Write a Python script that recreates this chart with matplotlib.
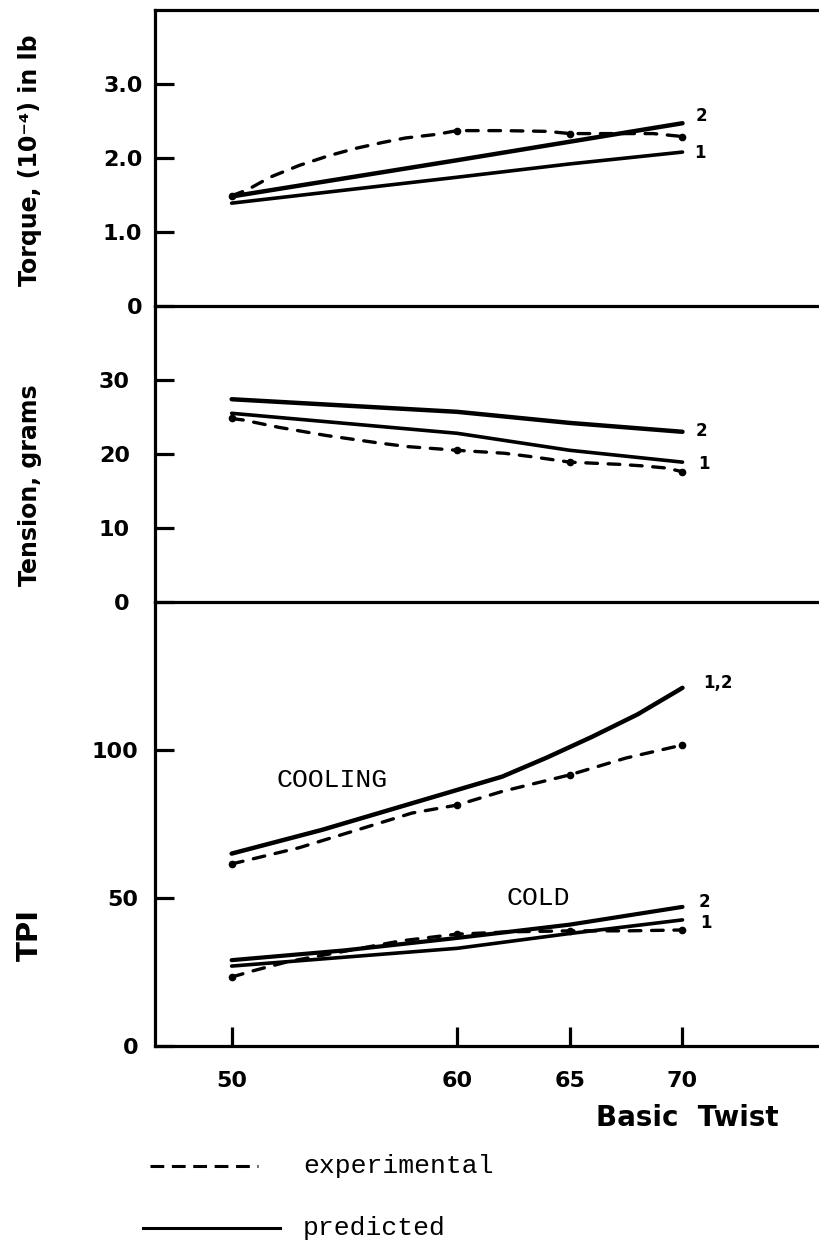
import matplotlib
matplotlib.use("Agg")
import matplotlib.pyplot as plt

# ---- data ----
twist_ticks = [50, 60, 65, 70]
twist_pts = [50, 60, 65, 70]          # experimental points (dots)

# torque (10^-4 in lb)
torque_pred_x = [50, 60, 65, 70]
torque_pred_1 = [1.39, 1.74, 1.92, 2.08]
torque_pred_2 = [1.48, 1.97, 2.22, 2.47]
torque_exp_x = [50, 50.7, 51.7, 53, 54.3, 55.5, 56.7, 57.7, 59.1, 60, 62, 64, 65, 67, 68.7, 70]
torque_exp = [1.49, 1.57, 1.74, 1.90, 2.03, 2.13, 2.21, 2.27, 2.32, 2.37, 2.37, 2.36, 2.33, 2.33, 2.33, 2.29]
torque_exp_dots = [1.49, 2.37, 2.33, 2.29]

# tension (grams)
tension_pred_x = [50, 60, 65, 70]
tension_pred_1 = [25.5, 22.8, 20.5, 18.9]
tension_pred_2 = [27.4, 25.7, 24.2, 23.0]
tension_exp_x = [50, 50.5, 52.1, 54.2, 56.5, 57.8, 60, 62.1, 63.4, 65, 67.2, 68.2, 69.3, 70]
tension_exp = [24.8, 24.6, 23.6, 22.5, 21.5, 21.0, 20.5, 20.1, 19.6, 18.9, 18.6, 18.4, 18.1, 17.6]
tension_exp_dots = [24.8, 20.5, 18.9, 17.6]

# TPI, cooling
cool_pred_x = [50, 54, 58, 60, 62, 64, 66, 68, 70]
cool_pred = [65, 73, 82, 86.5, 91, 97.5, 104.5, 112, 121]
cool_exp_x = [50, 53, 56, 58, 60, 62, 65, 67.5, 70]
cool_exp = [61.5, 67, 74, 78.7, 81.4, 86, 91.6, 97.3, 101.7]
cool_exp_dots = [61.5, 81.4, 91.6, 101.7]

# TPI, cold
cold_pred_x = [50, 55, 60, 65, 70]
cold_pred_1 = [27, 30, 33, 38, 42.6]
cold_pred_2 = [29, 32.3, 36.5, 41, 47]
cold_exp_x = [50, 51, 52.5, 55, 57.5, 60, 62.5, 65, 67.5, 70]
cold_exp = [23.3, 25.5, 28.5, 32, 35.5, 37.8, 38.6, 38.9, 38.9, 39.2]
cold_exp_dots = [23.3, 37.8, 38.9, 39.2]

# ---- figure ----
fig = plt.figure(figsize=(8.2, 12.45), dpi=100)
L = 155 / 820
H = 1245
ax1 = fig.add_axes([L, 1 - 306 / H, 1 - L, 296 / H])
ax2 = fig.add_axes([L, 1 - 602 / H, 1 - L, 296 / H])
ax3 = fig.add_axes([L, 1 - 1046 / H, 1 - L, 444 / H])

bold = dict(fontweight="bold", family="DejaVu Sans")
mono = dict(family="Liberation Mono")
DASH = (3.5, 3.2)

for ax in (ax1, ax2, ax3):
    ax.patch.set_visible(False)
    ax.set_xlim(46.6, 76.1)
    ax.spines["right"].set_visible(False)
    ax.spines["top"].set_visible(False)
    for s in ("left", "bottom"):
        ax.spines[s].set_linewidth(2.3)
    ax.tick_params(direction="in", length=14, width=2.3, labelsize=16)
ax1.spines["top"].set_visible(True)
ax1.spines["top"].set_linewidth(2.3)
for ax in (ax1, ax2):
    ax.tick_params(axis="x", bottom=False, labelbottom=False)


def draw(ax, x, y, **kw):
    ax.plot(x, y, color="black", solid_capstyle="round", solid_joinstyle="round", **kw)


def draw_exp(ax, x, y, dots):
    ax.plot(x, y, color="black", lw=2.4, linestyle=(0, DASH), dash_capstyle="round")
    ax.plot(twist_pts, dots, "o", color="black", ms=4.5)


# torque
draw(ax1, torque_pred_x, torque_pred_1, lw=2.6)
draw(ax1, torque_pred_x, torque_pred_2, lw=3.2)
draw_exp(ax1, torque_exp_x, torque_exp, torque_exp_dots)
ax1.set_ylim(0, 4)
ax1.set_yticks([0, 1, 2, 3])
ax1.set_yticklabels(["0", "1.0", "2.0", "3.0"], fontsize=16, fontweight="bold")
ax1.tick_params(axis="y", pad=9)
ax1.text(70.6, 2.5, "2", fontsize=12, **bold)
ax1.text(70.5, 2.0, "1", fontsize=12, **bold)

# tension
draw(ax2, tension_pred_x, tension_pred_1, lw=2.6)
draw(ax2, tension_pred_x, tension_pred_2, lw=3.2)
draw_exp(ax2, tension_exp_x, tension_exp, tension_exp_dots)
ax2.set_ylim(0, 40)
ax2.set_yticks([0, 10, 20, 30])
ax2.set_yticklabels(["0", "10", "20", "30"], fontsize=16, fontweight="bold")
ax2.tick_params(axis="y", pad=18)
ax2.text(70.6, 22.5, "2", fontsize=12, **bold)
ax2.text(70.7, 18.0, "1", fontsize=12, **bold)

# TPI
draw(ax3, cool_pred_x, cool_pred, lw=3.2)
draw_exp(ax3, cool_exp_x, cool_exp, cool_exp_dots)
draw(ax3, cold_pred_x, cold_pred_1, lw=2.6)
draw(ax3, cold_pred_x, cold_pred_2, lw=3.0)
draw_exp(ax3, cold_exp_x, cold_exp, cold_exp_dots)
ax3.set_ylim(0, 150)
ax3.set_yticks([0, 50, 100])
ax3.set_yticklabels(["0", "50", "100"], fontsize=16, fontweight="bold")
ax3.tick_params(axis="y", pad=12)
ax3.set_xticks(twist_ticks)
ax3.set_xticklabels([str(t) for t in twist_ticks], fontsize=16, fontweight="bold")
ax3.tick_params(axis="x", pad=18)
ax3.text(70.9, 121, "1,2", fontsize=12, **bold)
ax3.text(70.7, 47, "2", fontsize=12, **bold)
ax3.text(70.8, 40, "1", fontsize=12, **bold)
ax3.text(52.0, 90, "COOLING", fontsize=19, va="center", **mono)
ax3.text(62.2, 50, "COLD", fontsize=19, va="center", **mono)

# axis titles
fig.text(30 / 820, 1 - 160 / H, "Torque, (10\u207b\u2074) in lb", rotation=90,
         ha="center", va="center", fontsize=17, **bold)
fig.text(30 / 820, 1 - 485 / H, "Tension, grams", rotation=90,
         ha="center", va="center", fontsize=17, **bold)
fig.text(30 / 820, 1 - 935 / H, "TPI", rotation=90,
         ha="center", va="center", fontsize=21, **bold)
fig.text(687 / 820, 1 - 1118 / H, "Basic  Twist", ha="center", va="center",
         fontsize=20, **bold)

# legend drawn by hand below the axes
fig.add_artist(plt.Line2D([150 / 820, 258 / 820], [1 - 1166 / H] * 2, color="black",
                          lw=2.2, linestyle=(0, (4.5, 2.5))))
fig.text(303 / 820, 1 - 1166 / H, "experimental", fontsize=19, va="center", **mono)
fig.add_artist(plt.Line2D([143 / 820, 280 / 820], [1 - 1228 / H] * 2, color="black", lw=2.2))
fig.text(303 / 820, 1 - 1228 / H, "predicted", fontsize=19, va="center", **mono)

fig.savefig("out.png", dpi=100)
